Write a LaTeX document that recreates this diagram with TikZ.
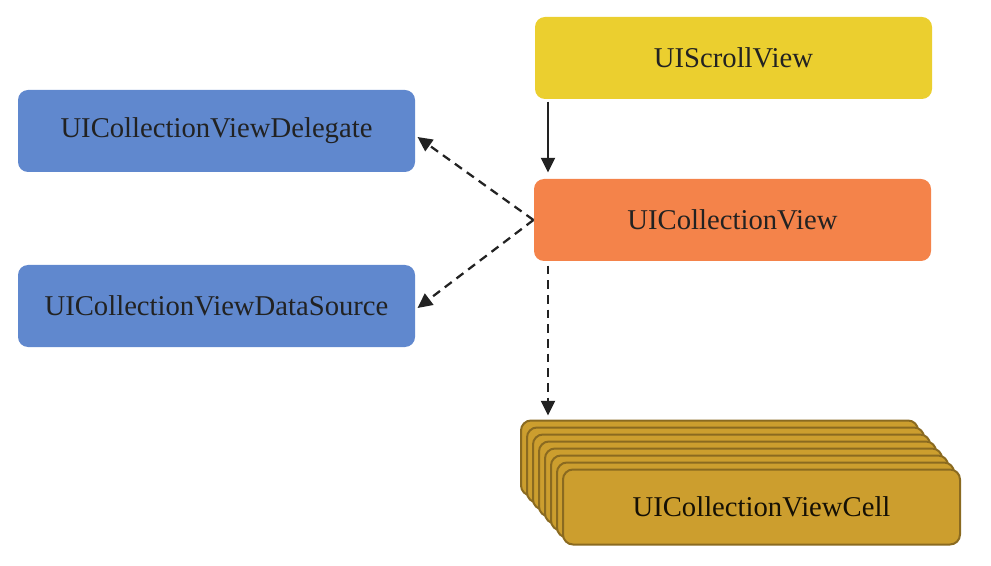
\documentclass[tikz,border=0pt]{standalone}
\usepackage{fontspec}
\setmainfont{Liberation Serif}
\usetikzlibrary{positioning, arrows.meta, calc}

\definecolor{scrollyellow}{HTML}{EBCF2F}
\definecolor{vieworange}{HTML}{F4834A}
\definecolor{protoblue}{HTML}{6088CE}
\definecolor{cellgold}{HTML}{CC9E2E}
\definecolor{cellrim}{HTML}{8A6A20}
\definecolor{inkdark}{HTML}{222222}

\begin{document}
\begin{tikzpicture}[x=0.75pt, y=-0.75pt, thick,
        box/.style = {rounded corners=7.5pt, minimum width=297.75pt, minimum height=61.5pt,
                      inner sep=0pt, font=\fontsize{21.5}{24}\selectfont, text=inkdark},
        cellbox/.style = {box, fill=cellgold, draw=cellrim, line width=1.5pt,
                          minimum height=56.25pt, text={black!85!cellrim}},
        link/.style = {line width=1.7pt, draw=inkdark, -{Triangle[length=11pt, width=10.5pt]}},
        weak/.style = {link, dash pattern=on 6.5pt off 4.5pt}]
                % Frame
                \useasboundingbox (0,0) rectangle (991,566);

                % Nodes
                \node[box, fill=scrollyellow] (scroll) at (733.5,58) {UIScrollView};
                \node[box, fill=vieworange] (collview) at (732.5,220) {UICollectionView};
                \node[box, fill=protoblue] (delegate) at (216.5,131) {UICollectionViewDelegate};
                \node[box, fill=protoblue] (datasource) at (216.5,306) {UICollectionViewDataSource};

                % Cells, back to front
                \foreach \k in {7,6,...,1}
                    \node[cellbox] (cell\k) at ($(761.5,507)-(\k*6,\k*7)$) {};
                \node[cellbox] (cell) at (761.5,507) {UICollectionViewCell};

                % Lines
                \coordinate (spine) at (548,0);
                \draw[link] ($(scroll.south -| spine)+(0,2)$) -- ($(collview.north -| spine)+(0,-6)$);
                \draw[weak] (collview.west) -- ($(delegate.east)+(2,6)$);
                \draw[weak] (collview.west) -- ($(datasource.east)+(2,2)$);
                \draw[weak] ($(collview.south -| spine)+(0,4)$) -- ($(cell7.north -| spine)+(0,-4)$);

            \end{tikzpicture}
\end{document}
